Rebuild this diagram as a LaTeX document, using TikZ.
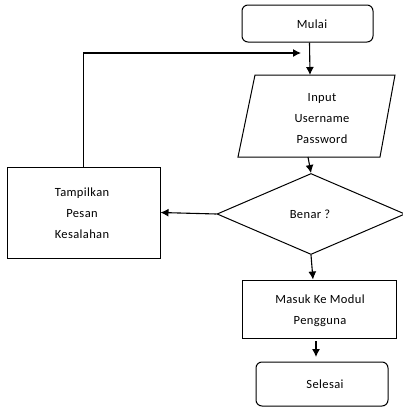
\documentclass[tikz,border=0pt]{standalone}
\usepackage{fontspec}
\setmainfont{Carlito}[LetterSpace=3]
\usetikzlibrary{arrows.meta,shapes.geometric}
\tikzset{
  box/.style={draw, line width=1pt, inner sep=0pt},
  term/.style={box, rounded corners=6pt},
  txt/.style={font=\fontsize{12.5}{21}\selectfont, align=center, inner sep=0pt},
  arr/.style={-{Latex[length=8pt,width=8pt]}, line width=1.1pt},
}
\begin{document}
\begin{tikzpicture}[x=1pt,y=-1pt]
\useasboundingbox (0,0) rectangle (403,408);
% shapes
\node[term, minimum width=131pt, minimum height=37pt] (mulai) at (307.5,23.5) {};
\node[txt] at (312,24) {Mulai};
\draw[line width=1pt] (255,75) -- (395,75) -- (380,157) -- (238,157) -- cycle;
\coordinate (inTop) at (310,75);
\coordinate (inBot) at (308,157);
\node[txt] (inp) at (322,119) {Input\\Username\\Password};
\node[box, shape=diamond, minimum width=188pt, minimum height=81pt] (cek) at (311,214) {};
\node[txt] at (310,214) {Benar ?};
\node[box, minimum width=153pt, minimum height=91pt] (tamp) at (83.5,212.5) {};
\node[txt] at (82,213) {Tampilkan\\Pesan\\Kesalahan};
\node[box, minimum width=154pt, minimum height=58pt] (masuk) at (319,309) {};
\node[txt] at (320,311) {Masuk Ke Modul\\Pengguna};
\node[term, minimum width=132pt, minimum height=44pt] (selesai) at (322,384) {};
\node[txt] at (325,384) {Selesai};
% connectors
\coordinate (loopEnd) at (301,53);
\coordinate (endArr) at (316,357);
\coordinate (masukBot) at (316,341);
\draw[arr] ([xshift=2pt]mulai.south) -- (inTop);
\draw[arr] (tamp.north) |- (loopEnd);
\draw[arr] (inBot) -- (cek.north);
\draw[arr] (cek.west) -- (tamp.east);
\draw[arr] (cek.south) -- ([xshift=-6pt]masuk.north);
\draw[arr] (masukBot) -- (endArr);
\end{tikzpicture}
\end{document}
